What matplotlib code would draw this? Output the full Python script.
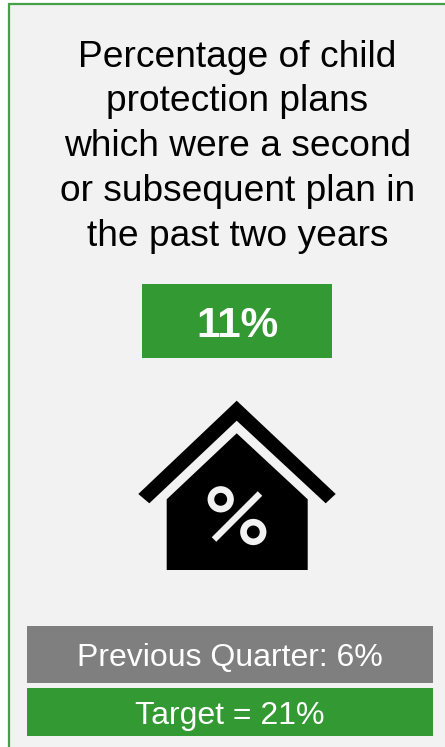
"""Single KPI card: child protection plans, repeat plan rate."""
import matplotlib
matplotlib.use('Agg')
import matplotlib.pyplot as plt
import matplotlib.patches as mpatches

title_lines = ['Percentage of child', 'protection plans', 'which were a second',
               'or subsequent plan in', 'the past two years']
current_value = 11
previous_value = 6
target_value = 21

GREEN = '#339933'
GREY = '#7f7f7f'
PANEL = '#f2f2f2'
BORDER = '#46a046'

plt.rcParams['font.family'] = ['Liberation Sans', 'DejaVu Sans']

W, H = 445, 747
fig = plt.figure(figsize=(W / 100, H / 100), dpi=100, facecolor='white')
ax = fig.add_axes([0, 0, 1, 1])
# pixel coordinates, origin top left
ax.set_xlim(0, W)
ax.set_ylim(H, 0)
ax.axis('off')

# card background with border on top and left only
ax.add_patch(mpatches.Rectangle((9, 3), W - 9, H - 3, facecolor=PANEL, edgecolor='none'))
ax.plot([9, 9], [H, 3], color=BORDER, lw=1.6, solid_capstyle='butt')
ax.plot([8, W], [3.5, 3.5], color=BORDER, lw=1.6, solid_capstyle='butt')

# title
y = 66.7
for line in title_lines:
    ax.text(237.5, y, line, ha='center', va='baseline', fontsize=26.7, color='black')
    y += 44.75

# headline value
ax.add_patch(mpatches.Rectangle((142, 284), 190, 74, facecolor=GREEN, edgecolor='none'))
ax.text(237.3, 337.3, f'{current_value}%', ha='center', va='baseline', fontsize=30.5,
        fontweight='bold', color='white')

# house icon
roof = [(236.7, 400.7), (335.7, 494), (325.7, 503.3), (236.7, 420.7),
        (149.3, 503.3), (138.3, 494)]
body = [(236.7, 433.3), (307.7, 499.3), (307.7, 570), (166.7, 570), (166.7, 499.3)]
ax.add_patch(mpatches.Polygon(roof, closed=True, facecolor='black', edgecolor='none'))
ax.add_patch(mpatches.Polygon(body, closed=True, facecolor='black', edgecolor='none'))

# percent sign on the house
for cx, cy in [(220.7, 499.3), (253.3, 532)]:
    ax.add_patch(mpatches.Circle((cx, cy), 9.8, facecolor='none', edgecolor=PANEL, lw=4.8))
ax.plot([260, 214], [493.5, 539.5], color=PANEL, lw=4.6, solid_capstyle='butt')

# footer boxes
ax.add_patch(mpatches.Rectangle((27, 626), 406, 57, facecolor=GREY, edgecolor='none'))
ax.text(230, 665.7, f'Previous Quarter: {previous_value}%', ha='center', va='baseline',
        fontsize=23, color='white')
ax.add_patch(mpatches.Rectangle((27, 688), 406, 48, facecolor=GREEN, edgecolor='none'))
ax.text(230, 724, f'Target = {target_value}%', ha='center', va='baseline',
        fontsize=23, color='white')

fig.savefig('out.png', dpi=100)
